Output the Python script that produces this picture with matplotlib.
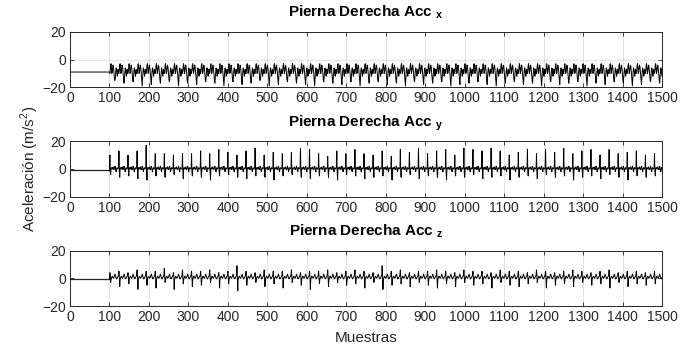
import numpy as np
import matplotlib.pyplot as plt

plt.rcParams['font.family'] = ['Liberation Sans', 'DejaVu Sans']
plt.rcParams['mathtext.fontset'] = 'custom'
plt.rcParams['mathtext.rm'] = 'Liberation Sans'
plt.rcParams['mathtext.bf'] = 'Liberation Sans:bold'

# --- data ---
n_samples = 1500
onset = 100          # sample where walking starts

# resting levels before onset
rest_x, rest_y, rest_z = -9.0, -1.2, -1.0

# one step (23 samples) of each axis
step_x = [-10, -8, -4, -3, -6, -10, -9, -6, -4, -5, -8, -12,
          -15, -18, -13, -8, -6, -7, -10, -12, -9, -7, -10]
step_y = [12, -2, -6, 0, 1, 0.5, 0, 1, 1.5, 0.5, -0.5, 0,
          1, 2, 1, -1, -2, 0, 1, 0.5, 0, 0.5, 1]
step_z = [5, 1, -3, -1, 0, 1, 1.5, 1, 0.5, 0, 0.5, 1,
          2, 3, 2, 1, 0, -0.5, 0, 0.5, 1, 1.5, 2.5]

# per-step extremes (61 steps)
x_dips = [-15, -17, -16, -19, -18, -17, -16, -19, -17, -18, -16, -17,
          -19, -16, -18, -17, -15, -19, -18, -16, -17, -18, -19, -16,
          -17, -18, -16, -19, -17, -16, -18, -17, -19, -16, -18, -17,
          -16, -19, -18, -17, -16, -18, -19, -17, -16, -18, -17, -19,
          -16, -18, -17, -16, -19, -17, -18, -16, -17, -19, -18, -16, -17]
y_peaks = [10, 13, 10, 13, 17, 11, 11, 10, 11, 11, 13, 11, 14, 12, 10,
           13, 15, 10, 12, 11, 12, 15, 14, 11, 9, 13, 11, 14, 11, 10,
           13, 9, 14, 12, 15, 11, 13, 14, 10, 15, 14, 13, 15, 13, 10,
           12, 14, 11, 14, 12, 15, 11, 13, 14, 10, 14, 11, 12, 13, 10, 11]
y_dips = [-4, -6, -5, -7, -8, -5, -6, -4, -7, -5, -6, -8, -5, -4, -6,
          -7, -5, -6, -8, -5, -4, -6, -7, -5, -6, -8, -4, -5, -7, -6,
          -5, -8, -6, -4, -7, -5, -6, -8, -5, -6, -4, -7, -6, -5, -8,
          -6, -5, -7, -4, -6, -5, -8, -6, -5, -7, -4, -6, -8, -5, -6, -5]
z_peaks = [4, 5, 4, 6, 5, 5, 7, 4, 6, 5, 5, 6, 4, 5, 9, 5, 4, 6, 5, 5,
           6, 4, 5, 5, 6, 4, 5, 6, 5, 4, 9, 5, 6, 4, 5, 5, 6, 5, 4, 6,
           5, 5, 4, 6, 5, 5, 4, 6, 5, 4, 5, 6, 5, 4, 5, 6, 4, 5, 5, 4, 5]
z_dips = [-3, -6, -4, -8, -5, -7, -3, -8, -4, -6, -5, -3, -7, -4, -9,
          -5, -3, -6, -4, -7, -3, -5, -8, -4, -6, -3, -5, -4, -7, -3,
          -8, -5, -4, -6, -3, -5, -7, -4, -6, -3, -5, -4, -7, -3, -5,
          -6, -4, -3, -7, -5, -4, -6, -3, -5, -4, -7, -3, -6, -4, -5, -4]

titles = ['Pierna Derecha Acc $_{\\mathbf{x}}$',
          'Pierna Derecha Acc $_{\\mathbf{y}}$',
          'Pierna Derecha Acc $_{\\mathbf{z}}$']


def build_signal(rest, step, peak_pos, peaks, dip_pos, dips):
    sig = np.full(n_samples, rest, dtype=float)
    period = len(step)
    t = onset
    for k in range(len(dips)):
        if t >= n_samples:
            break
        s = np.array(step, dtype=float)
        if peak_pos is not None:
            s[peak_pos] = peaks[k]
        s[dip_pos] = dips[k]
        end = min(t + period, n_samples)
        sig[t:end] = s[:end - t]
        t += period
    return sig


sig_x = build_signal(rest_x, step_x, None, None, 13, x_dips)
sig_y = build_signal(rest_y, step_y, 0, y_peaks, 2, y_dips)
sig_z = build_signal(rest_z, step_z, 0, z_peaks, 2, z_dips)
samples = np.arange(1, n_samples + 1)

# --- figure ---
txt = '#262626'
fig = plt.figure(figsize=(6.94, 3.53), dpi=100)
left, width, height = 70 / 694, 592 / 694, 55.5 / 353
bottoms = [1 - 87.3 / 353, 1 - 196.7 / 353, 1 - 306 / 353]

axes = []
for i, sig in enumerate([sig_x, sig_y, sig_z]):
    ax = fig.add_axes([left, bottoms[i], width, height])
    ax.plot(samples, sig, color='k', lw=0.7)
    ax.set_xlim(0, 1500)
    ax.set_ylim(-20, 20)
    ax.set_xticks(np.arange(0, 1501, 100))
    ax.set_yticks([-20, 0, 20])
    ax.grid(True, color='#262626', alpha=0.15, lw=0.6)
    ax.tick_params(direction='in', top=True, right=True, length=3,
                   labelsize=10, colors=txt, width=0.6, pad=3)
    for sp in ax.spines.values():
        sp.set_color(txt)
        sp.set_linewidth(0.7)
    ax.set_title(titles[i], fontsize=11, fontweight='bold', color='k', pad=11)
    axes.append(ax)

axes[1].set_ylabel('Aceleración (m/s$^2$)', fontsize=11, color=txt, labelpad=1)
axes[2].set_xlabel('Muestras', fontsize=11, color=txt, labelpad=5)

fig.savefig('out.png', dpi=100)
